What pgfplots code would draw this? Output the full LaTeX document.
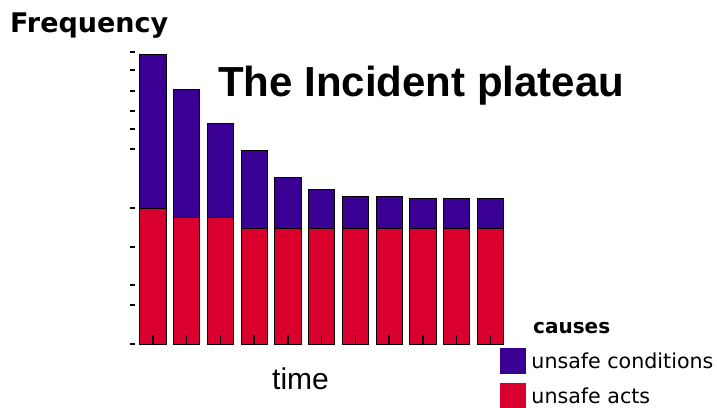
\documentclass[border=0pt]{standalone}
\usepackage{fontspec}
\setmainfont{Liberation Sans}
\newfontfamily\dejavu{DejaVu Sans}
\usepackage{pgfplots}
\pgfplotsset{compat=1.18}
\definecolor{acts}{RGB}{218,0,46}
\definecolor{conds}{RGB}{58,0,148}
\begin{document}
\begin{tikzpicture}
\useasboundingbox (0,0) rectangle (717pt,407pt);
\begin{axis}[
    at={(135pt,63pt)}, anchor=south west,
    scale only axis,
    width=375pt, height=304pt,
    ybar stacked,
    bar width=0.78,
    xmin=0.467, xmax=11.578,
    ymin=0, ymax=304,
    axis x line*=bottom, axis y line*=left,
    axis line style={draw=none},
    xtick=data, xticklabels={},
    x tick style={black, line width=1.5pt, /pgfplots/major tick length=9pt},
    ytick={0,39,59,97,136,195,215,233,253,274,292},
    yticklabels={},
    y tick style={black, line width=1.2pt, /pgfplots/major tick length=5pt},
    xtick align=inside, ytick align=outside,
    axis on top,
    legend style={at={(0.973,-0.013)}, anchor=north west, draw=none, fill=none,
      inner sep=0pt, row sep=9pt, font=\dejavu\fontsize{20.6}{24}\selectfont,
      legend cell align=left,
      /tikz/every odd column/.append style={column sep=6pt},
      nodes={inner sep=0pt, text depth=0pt, anchor=west}},
]
\addplot[fill=acts, draw=black, line width=1pt, forget plot] coordinates {
  (1,135) (2,126) (3,126) (4,116) (5,116) (6,116) (7,116) (8,116) (9,116) (10,116) (11,116)};
\addplot[fill=conds, draw=black, line width=1pt, forget plot] coordinates {
  (1,154) (2,128) (3,94) (4,77) (5,50) (6,38) (7,31) (8,31) (9,29) (10,29) (11,29)};
\addlegendimage{legend image code/.code={\fill[conds] (0pt,-12.5pt) rectangle (25pt,12.5pt);}}
\addlegendentry{unsafe conditions}
\addlegendimage{legend image code/.code={\fill[acts] (0pt,-12.5pt) rectangle (25pt,12.5pt);}}
\addlegendentry{unsafe acts}
\end{axis}
\node[anchor=base west, inner sep=0pt, font=\dejavu\bfseries\fontsize{27}{30}\selectfont] at (10pt,374pt) {Frequency};
\node[anchor=base west, inner sep=0pt, font=\bfseries\fontsize{42}{46}\selectfont] at (218pt,310pt) {The Incident plateau};
\node[anchor=base west, inner sep=0pt, font=\fontsize{30}{34}\selectfont] at (272pt,18pt) {time};
\node[anchor=base west, inner sep=0pt, font=\dejavu\bfseries\fontsize{20}{24}\selectfont] at (533pt,74pt) {causes};
\end{tikzpicture}
\end{document}
